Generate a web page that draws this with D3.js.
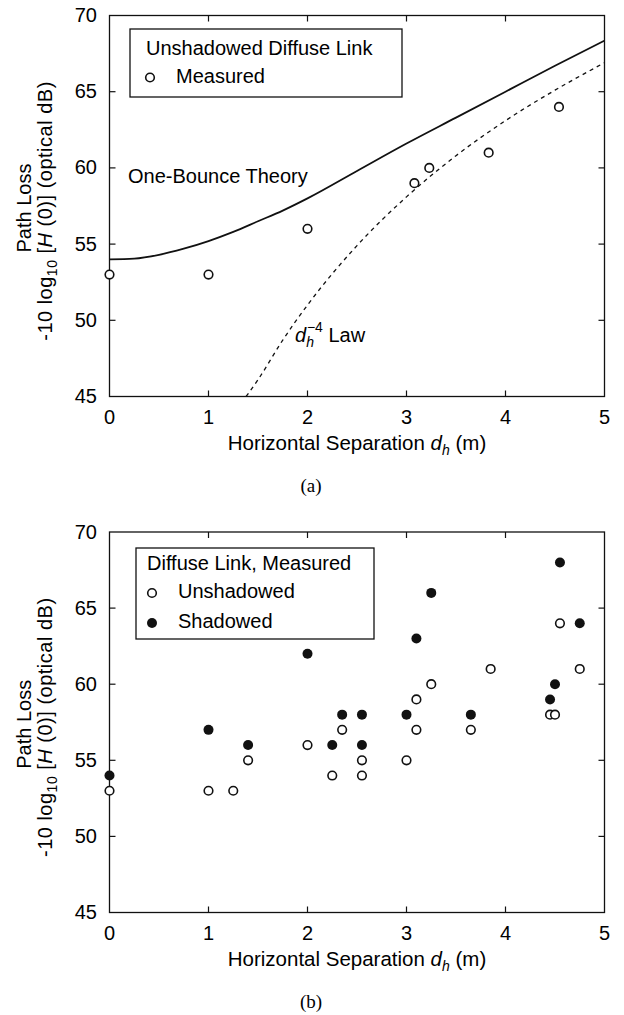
<!DOCTYPE html>
<html lang="en">
<head>
<meta charset="UTF-8" />
<title>Diffuse Link Path Loss</title>
<script src="https://d3js.org/d3.v7.min.js"></script>
<style>
  body { margin: 0; padding: 0; background: white; }
  svg { display: block; font-family: "Liberation Sans", Arial, sans-serif; }
</style>
</head>
<body>
<svg id="chart" width="624" height="1015"></svg>
<script>
// ---- data ----
const xTicks = [0, 1, 2, 3, 4, 5];
const yTicks = [45, 50, 55, 60, 65, 70];

// (a) unshadowed diffuse link
const measuredD = [0, 1, 2, 3.08, 3.23, 3.83, 4.54];
const measuredLoss = [53, 53, 56, 59, 60, 61, 64];

const theoryD = [0, 0.25, 0.5, 0.75, 1, 1.25, 1.5, 1.75, 2, 2.5, 3, 3.5, 4, 4.5, 5];
const theoryLoss = [54.0, 54.05, 54.3, 54.7, 55.2, 55.8, 56.5, 57.2, 58.0, 59.8, 61.6, 63.3, 65.0, 66.7, 68.35];

const lawD = [1.38, 1.5, 1.75, 2, 2.5, 3, 3.5, 4, 4.5, 5];
const lawLoss = [45.0, 46.1, 48.7, 51.0, 54.9, 58.1, 60.8, 63.1, 65.1, 66.9];

// (b) measured, unshadowed vs shadowed
const unshD = [0, 1, 1.25, 1.4, 2, 2.25, 2.35, 2.55, 2.55, 3, 3.1, 3.1, 3.25, 3.65, 3.85, 4.45, 4.5, 4.55, 4.75];
const unshLoss = [53, 53, 53, 55, 56, 54, 57, 55, 54, 55, 57, 59, 60, 57, 61, 58, 58, 64, 61];

const shD = [0, 1, 1.4, 2, 2.25, 2.35, 2.55, 2.55, 3, 3.1, 3.25, 3.65, 4.45, 4.5, 4.55, 4.75];
const shLoss = [54, 57, 56, 62, 56, 58, 58, 56, 58, 63, 66, 58, 59, 60, 68, 64];

const svg = d3.select("#chart");
svg.append("rect").attr("width", 624).attr("height", 1015).attr("fill", "white");

const x = d3.scaleLinear().domain([0, 5]).range([109.5, 604.5]);

function drawPanel(top, bottom, tag) {
  const y = d3.scaleLinear().domain([45, 70]).range([bottom, top]);
  const g = svg.append("g");

  // frame
  g.append("rect")
    .attr("x", x(0)).attr("y", y(70))
    .attr("width", x(5) - x(0)).attr("height", y(45) - y(70))
    .attr("fill", "none").attr("stroke", "#111").attr("stroke-width", 1.3);

  // inward ticks, all four sides
  xTicks.slice(1, -1).forEach(t => {
    g.append("line").attr("x1", x(t)).attr("x2", x(t)).attr("y1", y(45)).attr("y2", y(45) - 6)
      .attr("stroke", "#111").attr("stroke-width", 1.2);
    g.append("line").attr("x1", x(t)).attr("x2", x(t)).attr("y1", y(70)).attr("y2", y(70) + 6)
      .attr("stroke", "#111").attr("stroke-width", 1.2);
  });
  yTicks.slice(1, -1).forEach(t => {
    g.append("line").attr("x1", x(0)).attr("x2", x(0) + 6).attr("y1", y(t)).attr("y2", y(t))
      .attr("stroke", "#111").attr("stroke-width", 1.2);
    g.append("line").attr("x1", x(5)).attr("x2", x(5) - 6).attr("y1", y(t)).attr("y2", y(t))
      .attr("stroke", "#111").attr("stroke-width", 1.2);
  });

  // tick labels
  g.selectAll(".xl").data(xTicks).enter().append("text")
    .attr("x", d => x(d)).attr("y", y(45) + 27.5)
    .attr("text-anchor", "middle").attr("font-size", 20).text(d => d);
  g.selectAll(".yl").data(yTicks).enter().append("text")
    .attr("x", 97).attr("y", d => y(d) + 6.5)
    .attr("text-anchor", "end").attr("font-size", 20).text(d => d);

  // x title
  const xt = g.append("text").attr("x", (x(0) + x(5)) / 2).attr("y", y(45) + 53)
    .attr("text-anchor", "middle").attr("font-size", 20.5);
  xt.append("tspan").text("Horizontal Separation ");
  xt.append("tspan").attr("font-style", "italic").text("d");
  xt.append("tspan").attr("font-style", "italic").attr("font-size", 14).attr("dy", 5).text("h");
  xt.append("tspan").attr("dy", -5).text(" (m)");

  // y title (two lines, rotated)
  const cy = (top + bottom) / 2 + 2;
  g.append("text").attr("transform", `translate(31,${cy}) rotate(-90)`)
    .attr("text-anchor", "middle").attr("font-size", 20).text("Path Loss");
  const yt = g.append("text").attr("transform", `translate(52,${cy + 3}) rotate(-90)`)
    .attr("text-anchor", "middle").attr("font-size", 20).attr("letter-spacing", 0.5);
  yt.append("tspan").text("-10 log");
  yt.append("tspan").attr("font-size", 14).attr("dy", 5).text("10");
  yt.append("tspan").attr("dy", -5).text(" [");
  yt.append("tspan").attr("font-style", "italic").text("H");
  yt.append("tspan").text(" (0)] (optical dB)");

  // panel tag
  g.append("text").attr("x", 311).attr("y", y(45) + 95.5)
    .attr("text-anchor", "middle").attr("font-size", 19)
    .attr("font-family", "'Liberation Serif', 'Times New Roman', serif").text(tag);

  return { g, y };
}

function openDots(g, y, ds, vs) {
  g.selectAll(null).data(ds.map((d, i) => [d, vs[i]])).enter().append("circle")
    .attr("cx", d => x(d[0])).attr("cy", d => y(d[1])).attr("r", 4.3)
    .attr("fill", "white").attr("stroke", "#111").attr("stroke-width", 1.6);
}
function filledDots(g, y, ds, vs) {
  g.selectAll(null).data(ds.map((d, i) => [d, vs[i]])).enter().append("circle")
    .attr("cx", d => x(d[0])).attr("cy", d => y(d[1])).attr("r", 5)
    .attr("fill", "#111");
}

// ---- panel (a) ----
const A = drawPanel(15.5, 396.5, "(a)");
const line = d3.line().curve(d3.curveMonotoneX);

A.g.append("path")
  .attr("d", line(theoryD.map((d, i) => [x(d), A.y(theoryLoss[i])])))
  .attr("fill", "none").attr("stroke", "#111").attr("stroke-width", 1.8);
A.g.append("path")
  .attr("d", line(lawD.map((d, i) => [x(d), A.y(lawLoss[i])])))
  .attr("fill", "none").attr("stroke", "#111").attr("stroke-width", 1.3)
  .attr("stroke-dasharray", "4,4");
openDots(A.g, A.y, measuredD, measuredLoss);

A.g.append("text").attr("x", 128).attr("y", 183).attr("font-size", 20).text("One-Bounce Theory");
const law = A.g.append("text").attr("x", 295).attr("y", 341.5).attr("font-size", 20);
law.append("tspan").attr("font-style", "italic").text("d");
law.append("tspan").attr("font-style", "italic").attr("font-size", 14).attr("dy", 5).text("h");
law.append("tspan").attr("font-size", 14).attr("dx", -7).attr("dy", -15).text("\u22124");
law.append("tspan").attr("dy", 10).text(" Law");

// legend (a)
A.g.append("rect").attr("x", 130).attr("y", 29).attr("width", 272).attr("height", 68)
  .attr("fill", "white").attr("stroke", "#111").attr("stroke-width", 1.3);
A.g.append("text").attr("x", 146).attr("y", 55).attr("font-size", 20).text("Unshadowed Diffuse Link");
A.g.append("circle").attr("cx", 150).attr("cy", 77.5).attr("r", 4.3)
  .attr("fill", "white").attr("stroke", "#111").attr("stroke-width", 1.6);
A.g.append("text").attr("x", 176).attr("y", 83).attr("font-size", 20).text("Measured");

// ---- panel (b) ----
const B = drawPanel(532, 912.5, "(b)");
openDots(B.g, B.y, unshD, unshLoss);
filledDots(B.g, B.y, shD, shLoss);

B.g.append("rect").attr("x", 136).attr("y", 548).attr("width", 238).attr("height", 91)
  .attr("fill", "white").attr("stroke", "#111").attr("stroke-width", 1.3);
B.g.append("text").attr("x", 147).attr("y", 570).attr("font-size", 20).text("Diffuse Link, Measured");
B.g.append("circle").attr("cx", 152).attr("cy", 593).attr("r", 4.3)
  .attr("fill", "white").attr("stroke", "#111").attr("stroke-width", 1.6);
B.g.append("text").attr("x", 178).attr("y", 598).attr("font-size", 20).text("Unshadowed");
B.g.append("circle").attr("cx", 152).attr("cy", 623).attr("r", 5).attr("fill", "#111");
B.g.append("text").attr("x", 178).attr("y", 628).attr("font-size", 20).text("Shadowed");
</script>
</body>
</html>
